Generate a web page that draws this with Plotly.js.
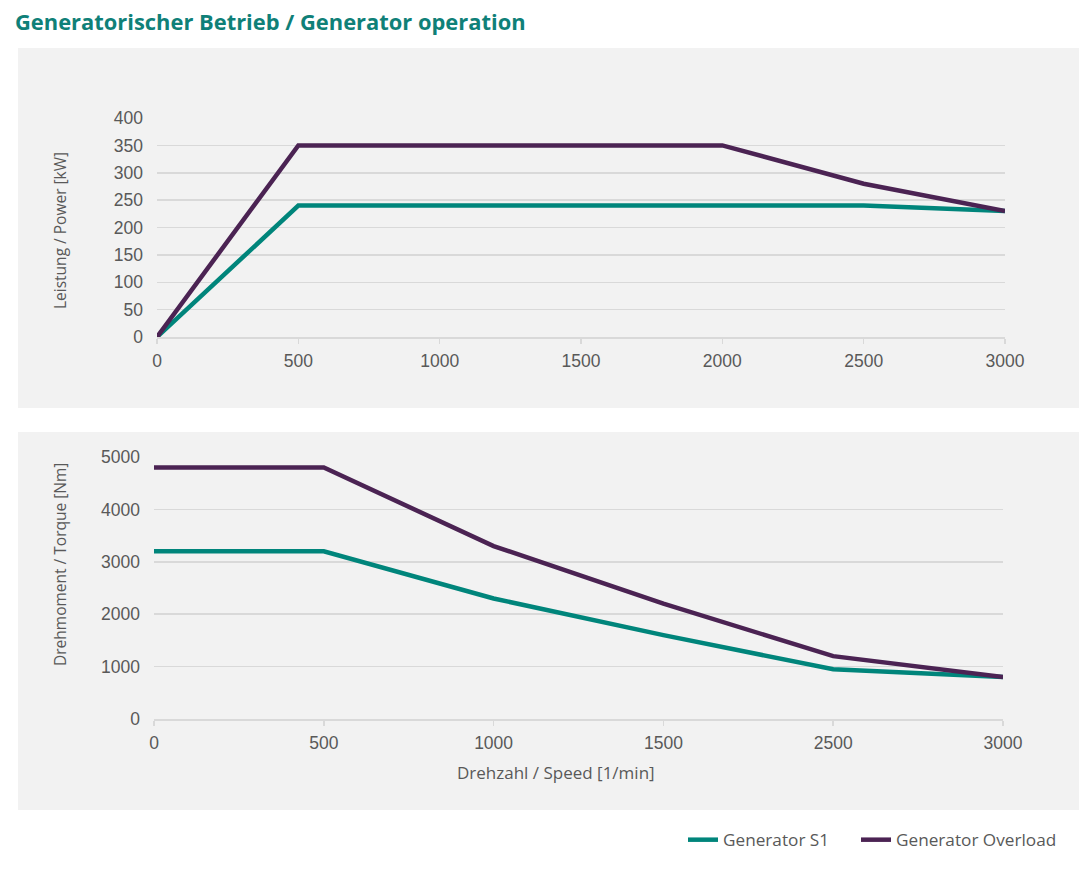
<!DOCTYPE html>
<html>
<head>
<meta charset="utf-8">
<script src="https://cdn.plot.ly/plotly-3.0.1.min.js"></script>
<style>
html,body{margin:0;padding:0;background:#fff;}
#chart{width:1079px;height:887px;}
</style>
</head>
<body>
<div id="chart"></div>
<script>
// Data — power chart (linear speed axis)
const powerSpeed = [0, 500, 1000, 1500, 2000, 2500, 3000];
const powerS1 = [0, 240, 240, 240, 240, 240, 230];
const powerOverload = [0, 350, 350, 350, 350, 280, 230];
const powerXTicks = [0, 500, 1000, 1500, 2000, 2500, 3000];
const powerTicks = [0, 50, 100, 150, 200, 250, 300, 350, 400];
// Data — torque chart (category speed axis, as in the original)
const torqueSpeed = ['0', '500', '1000', '1500', '2500', '3000'];
const torqueS1 = [3200, 3200, 2300, 1600, 950, 800];
const torqueOverload = [4800, 4800, 3300, 2200, 1200, 800];
const torqueTicks = [0, 1000, 2000, 3000, 4000, 5000];
const seriesNames = ['Generator S1', 'Generator Overload'];

const teal = '#00857b';
const purple = '#4b2353';
const W = 1079, H = 887;
const px = v => v / W;
const py = v => 1 - v / H;
const LW = 4.5;

const traces = [
  {x: powerSpeed, y: powerS1, name: seriesNames[0], type: 'scatter', mode: 'lines',
   line: {color: teal, width: LW}, xaxis: 'x', yaxis: 'y', legend: 'legend', legendgroup: 'a'},
  {x: powerSpeed, y: powerOverload, name: seriesNames[1], type: 'scatter', mode: 'lines',
   line: {color: purple, width: LW}, xaxis: 'x', yaxis: 'y', legend: 'legend2', legendgroup: 'b'},
  {x: torqueSpeed, y: torqueS1, name: seriesNames[0], type: 'scatter', mode: 'lines',
   line: {color: teal, width: LW}, xaxis: 'x2', yaxis: 'y2', showlegend: false, legendgroup: 'a'},
  {x: torqueSpeed, y: torqueOverload, name: seriesNames[1], type: 'scatter', mode: 'lines',
   line: {color: purple, width: LW}, xaxis: 'x2', yaxis: 'y2', showlegend: false, legendgroup: 'b'}
];

const tickFont = {family: '"Liberation Sans", Arial, sans-serif', size: 17.5, color: '#595959'};
const gridC = '#d9d9d9';
const titleFont = {family: '"Open Sans", "Noto Sans", sans-serif', size: 15.5, color: '#595959'};
const legendFont = {family: '"Open Sans", "Noto Sans", sans-serif', size: 17.2, color: '#595959'};

const xCommon = {
  showgrid: false, zeroline: false, showline: true, linecolor: gridC, linewidth: 1.5,
  ticks: 'outside', ticklen: 5, tickcolor: gridC, tickwidth: 1.5,
  tickfont: tickFont, automargin: false, fixedrange: true, ticklabelstandoff: 2
};
const yCommon = {
  showgrid: true, gridcolor: gridC, gridwidth: 1.5, zeroline: false, showline: false,
  ticks: '', tickfont: tickFont, automargin: false, fixedrange: true, ticklabelstandoff: 13
};

const layout = {
  width: W, height: H,
  margin: {l: 0, r: 0, t: 0, b: 0, autoexpand: false},
  paper_bgcolor: '#ffffff', plot_bgcolor: 'rgba(0,0,0,0)',
  showlegend: true,
  legend: {orientation: 'h', x: px(683), xanchor: 'left', y: py(840), yanchor: 'middle',
    font: legendFont, bgcolor: 'rgba(0,0,0,0)', itemwidth: 30},
  legend2: {orientation: 'h', x: px(856), xanchor: 'left', y: py(840), yanchor: 'middle',
    font: legendFont, bgcolor: 'rgba(0,0,0,0)', itemwidth: 30},
  xaxis: Object.assign({}, xCommon, {domain: [px(157), px(1005)], anchor: 'y',
    range: [0, 3000], tickvals: powerXTicks, ticktext: powerXTicks.map(String)}),
  yaxis: Object.assign({}, yCommon, {domain: [py(337), py(118)], range: [0, 400],
    tickvals: powerTicks, ticktext: powerTicks.map(String), anchor: 'x'}),
  xaxis2: Object.assign({}, xCommon, {domain: [px(154), px(1003)], anchor: 'y2',
    type: 'category', range: [0, torqueSpeed.length - 1]}),
  yaxis2: Object.assign({}, yCommon, {domain: [py(719), py(457)], range: [0, 5000],
    tickvals: torqueTicks, ticktext: torqueTicks.map(String), anchor: 'x2'}),
  shapes: [
    {type: 'rect', xref: 'paper', yref: 'paper', x0: px(18), x1: px(1079), y0: py(408), y1: py(48),
     fillcolor: '#f2f2f2', line: {width: 0}, layer: 'below'},
    {type: 'rect', xref: 'paper', yref: 'paper', x0: px(18), x1: px(1079), y0: py(810), y1: py(432),
     fillcolor: '#f2f2f2', line: {width: 0}, layer: 'below'}
  ],
  annotations: [
    {text: '<b>Generatorischer Betrieb / Generator operation</b>', xref: 'paper', yref: 'paper',
     x: px(13), y: py(22), xanchor: 'left', yanchor: 'middle', showarrow: false,
     font: {family: '"Open Sans", "Noto Sans", sans-serif', size: 21.9, color: '#0f8078'}},
    {text: 'Leistung / Power [kW]', xref: 'paper', yref: 'paper', x: px(60), y: py(231),
     xanchor: 'center', yanchor: 'middle', textangle: -90, showarrow: false, font: titleFont},
    {text: 'Drehmoment / Torque [Nm]', xref: 'paper', yref: 'paper', x: px(60), y: py(565),
     xanchor: 'center', yanchor: 'middle', textangle: -90, showarrow: false, font: titleFont},
    {text: 'Drehzahl / Speed [1/min]', xref: 'paper', yref: 'paper', x: px(556), y: py(772),
     xanchor: 'center', yanchor: 'middle', showarrow: false,
     font: {family: '"Open Sans", "Noto Sans", sans-serif', size: 17, color: '#595959'}}
  ]
};

Plotly.newPlot('chart', traces, layout, {displayModeBar: false, staticPlot: true});
</script>
</body>
</html>
